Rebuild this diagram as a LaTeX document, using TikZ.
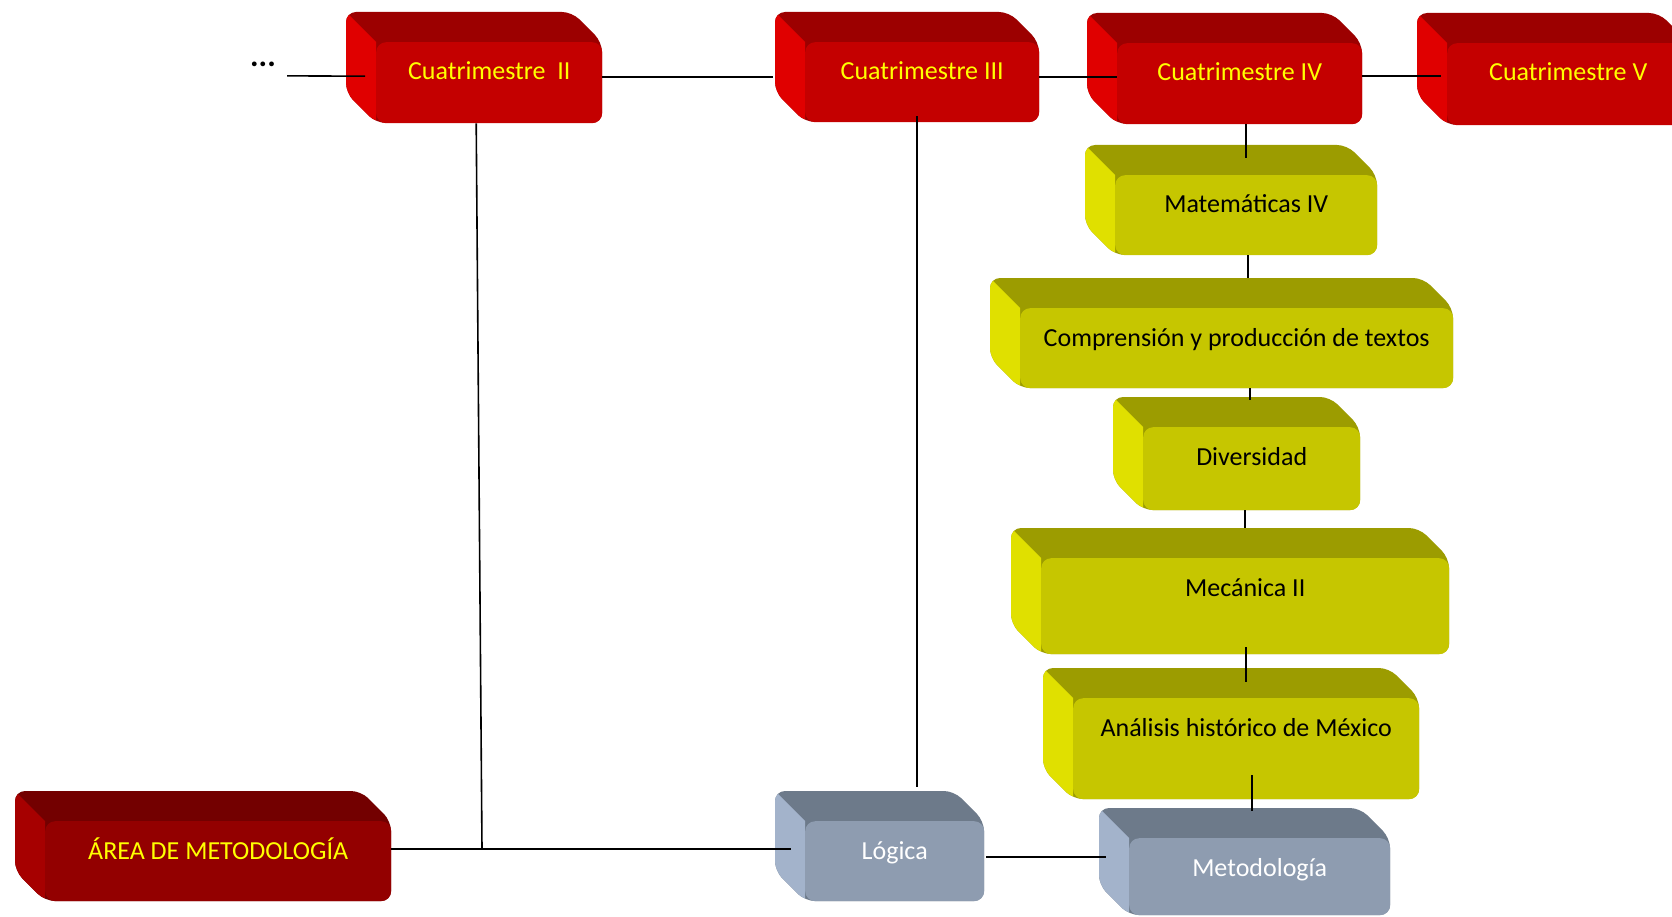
\documentclass[tikz,border=0pt]{standalone}
\usepackage{fontspec}
\setmainfont{Carlito}
\usepackage{xcolor}
\usepackage{tikz}
\usetikzlibrary{positioning, calc}

% paletas: F frente, T cara superior, L cara izquierda, X texto
\definecolor{rojoF}{HTML}{C40000}
\definecolor{rojoT}{HTML}{9C0000}
\definecolor{rojoL}{HTML}{E00000}
\definecolor{rojoX}{HTML}{FFFF00}
\definecolor{vinoF}{HTML}{930000}
\definecolor{vinoT}{HTML}{730000}
\definecolor{vinoL}{HTML}{A60000}
\definecolor{vinoX}{HTML}{FFFF00}
\definecolor{amarilloF}{HTML}{C6C600}
\definecolor{amarilloT}{HTML}{9C9C00}
\definecolor{amarilloL}{HTML}{E0E000}
\definecolor{amarilloX}{HTML}{000000}
\definecolor{grisF}{HTML}{8E9CB0}
\definecolor{grisT}{HTML}{6D7A8A}
\definecolor{grisL}{HTML}{A3B3CB}
\definecolor{grisX}{HTML}{FFFFFF}

\tikzset{
  cara/.style={draw=none, inner sep=0pt, rounded corners=10pt},
  enlace/.style={draw=black, line width=1.6pt}
}

% caja en relieve: nombre, frente (x1,y1,x2,y2), paleta, texto
\newcommand{\caja}[7]{%
  \fill[#6T, rounded corners=10pt] (#2-30,#3-30) -- (#4-30,#3-30) -- (#4,#3) -- (#4,#5) -- (#2,#5) -- (#2-30,#5-30) -- cycle;
  \begin{scope}
    \clip[rounded corners=10pt] (#2-30,#3-30) -- (#4-30,#3-30) -- (#4,#3) -- (#4,#5) -- (#2,#5) -- (#2-30,#5-30) -- cycle;
    \fill[#6L] (#2-30,#3-30) -- (#2,#3) -- (#2,#5) -- (#2-30,#5-30) -- cycle;
  \end{scope}
  \node[cara, fill=#6F, minimum width={#4-#2}, minimum height={#5-#3}, anchor=north west,
        label={[anchor=base, yshift=-38pt, text=#6X]north:{#7}}] (#1) at (#2,#3) {};
}

\begin{document}
\begin{tikzpicture}[x=1pt, y=-1pt, font=\fontsize{26}{31}\selectfont]
  \useasboundingbox (0,0) rectangle (1672,917);
  \clip (0,0) rectangle (1672,917);

  % cuatrimestres
  \node[inner sep=0pt, anchor=base, font=\fontsize{32}{36}\selectfont] (puntos) at (263,67) {\textbf{...}};
  \caja{c2}{376}{42}{602}{123}{rojo}{Cuatrimestre\ \ II}
  \caja{c3}{805}{42}{1039}{122}{rojo}{Cuatrimestre III}
  \caja{c4}{1117}{43}{1362}{124}{rojo}{Cuatrimestre IV}
  \caja{c5}{1447}{43}{1689}{125}{rojo}{Cuatrimestre V}

  % materias del cuatrimestre IV
  \caja{m4}{1115}{175}{1377}{255}{amarillo}{Matemáticas IV}
  \caja{cp}{1020}{308}{1453}{388}{amarillo}{Comprensión y producción de textos}
  \caja{dv}{1143}{427}{1360}{510}{amarillo}{Diversidad}
  \caja{mc}{1041}{558}{1449}{654}{amarillo}{Mecánica II}
  \caja{an}{1073}{698}{1419}{799}{amarillo}{Análisis histórico de México}

  % area de metodologia
  \caja{ar}{45}{821}{391}{901}{vino}{ÁREA DE METODOLOGÍA}
  \caja{lg}{805}{821}{984}{901}{gris}{Lógica}
  \caja{mt}{1129}{838}{1390}{915}{gris}{Metodología}
  \coordinate (j) at (482,849);

  % enlaces horizontales
  \draw[enlace] ([xshift=11pt,yshift=-11pt]puntos.east) -- ([xshift=-11pt,yshift=6.5pt]c2.west);
  \draw[enlace] ([yshift=5.5pt]c2.east) -- ([xshift=-32pt,yshift=5pt]c3.west);
  \draw[enlace] ([yshift=5pt]c3.east) -- ([yshift=6.5pt]c4.west);
  \draw[enlace] ([yshift=7.5pt]c4.east) -- ([xshift=-6pt,yshift=8pt]c5.west);
  \draw[enlace] ([yshift=12pt]ar.east) -- ([xshift=-14pt,yshift=12pt]lg.west);
  \draw[enlace] ([xshift=2pt,yshift=4pt]lg.east) -- ([xshift=-23pt,yshift=19.5pt]mt.west);

  % enlaces verticales
  \draw[enlace] ([xshift=6.5pt]c4.south) -- ([yshift=17pt]m4.north);
  \draw[enlace] ([xshift=2pt]m4.south) -- ([xshift=11.5pt,yshift=30pt]cp.north);
  \draw[enlace] ([xshift=13.5pt]cp.south) -- ([xshift=-1.5pt,yshift=27pt]dv.north);
  \draw[enlace] ([xshift=-6.5pt]dv.south) -- ([yshift=30pt]mc.north);
  \draw[enlace] ([xshift=1pt,yshift=7pt]mc.south) -- ([yshift=16pt]an.north);
  \draw[enlace] ([xshift=6pt,yshift=24pt]an.south) -- ([xshift=-7.5pt,yshift=27pt]mt.north);
  \draw[enlace] ([xshift=-13pt]c2.south) -- (j);
  \draw[enlace] ([xshift=-5pt,yshift=6pt]c3.south) -- ([xshift=22.5pt,yshift=34pt]lg.north);
\end{tikzpicture}
\end{document}
